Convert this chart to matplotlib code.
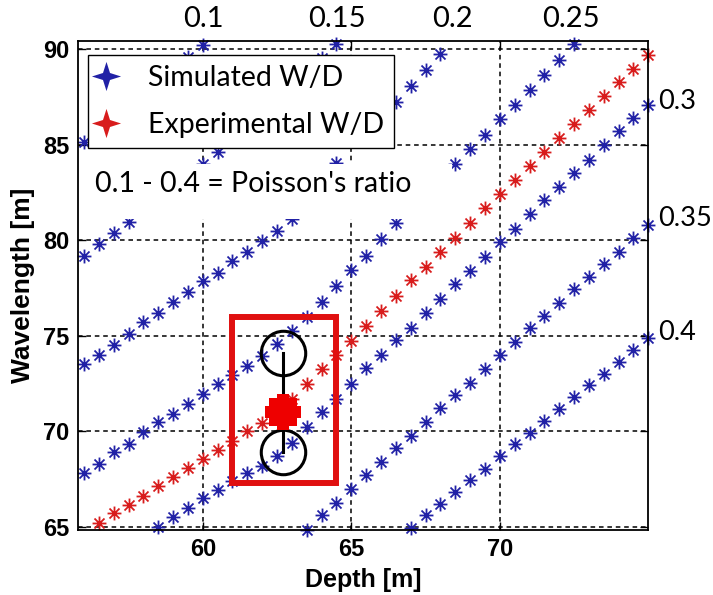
import numpy as np
import matplotlib
matplotlib.use("Agg")
import matplotlib.pyplot as plt
from matplotlib.path import Path
from matplotlib.lines import Line2D
from matplotlib.patches import Rectangle
from matplotlib.legend_handler import HandlerTuple

# ---------------------------------------------------------------------------
# Data: wavelength vs depth, sampled every 0.5 m of depth
# ---------------------------------------------------------------------------
DEPTH_STEP = 0.5

poisson_ratios = ["0.1", "0.15", "0.2", "0.25", "0.3", "0.35", "0.4"]
sim_start_depth = [56.0, 56.0, 56.0, 56.0, 58.5, 63.5, 67.0]

wl_nu010 = [85.15, 85.75, 86.35, 86.95, 87.6, 88.25, 88.9, 89.6, 90.2]
wl_nu015 = [79.2, 79.8, 80.4, 80.95, 81.6, 82.2, 82.8, 83.4, 84.0, 84.6,
            85.25, 85.9, 86.55, 87.2, 87.9, 88.7, 89.55, 90.3]
wl_nu020 = [73.5, 74.0, 74.5, 75.1, 75.7, 76.2, 76.75, 77.3, 77.85, 78.3,
            78.9, 79.4, 79.95, 80.5, 81.1, 82.0, 83.0, 84.05, 85.2, 85.9,
            86.6, 87.25, 88.1, 88.9, 89.75]
wl_nu025 = [67.8, 68.3, 68.9, 69.35, 69.95, 70.5, 70.9, 71.45, 71.95, 72.45,
            72.95, 73.4, 73.95, 74.55, 75.25, 76.0, 76.75, 77.6, 78.45, 79.2,
            80.05, 80.9, 81.7, 82.5, 83.25, 84.0, 84.8, 85.5, 86.35, 87.1,
            87.85, 88.65, 89.45, 90.3]
wl_nu030 = [65.0, 65.5, 66.0, 66.5, 66.9, 67.4, 67.8, 68.2, 68.7, 69.4,
            70.2, 71.0, 71.7, 72.5, 73.3, 74.0, 74.8, 75.4, 76.2, 76.9,
            77.7, 78.4, 79.1, 79.9, 80.6, 81.4, 82.1, 82.8, 83.5, 84.2,
            85.0, 85.7, 86.4, 87.1]
wl_nu035 = [64.85, 65.6, 66.25, 67.0, 67.7, 68.4, 69.1, 69.75, 70.5, 71.2,
            71.9, 72.55, 73.25, 74.0, 74.65, 75.4, 76.05, 76.7, 77.45, 78.1,
            78.75, 79.4, 80.1, 80.8]
wl_nu040 = [64.93, 65.6, 66.2, 66.8, 67.45, 68.05, 68.7, 69.35, 69.9, 70.55,
            71.15, 71.8, 72.4, 73.0, 73.65, 74.25, 74.9]
sim_wavelengths = [wl_nu010, wl_nu015, wl_nu020, wl_nu025,
                   wl_nu030, wl_nu035, wl_nu040]

exp_start_depth = 56.5
wl_exp = [65.2, 65.7, 66.15, 66.6, 67.15, 67.6, 68.1, 68.55, 69.0, 69.5,
          70.0, 70.45, 71.05, 71.7, 72.45, 73.25, 74.0, 74.75, 75.5, 76.3,
          77.1, 77.9, 78.6, 79.4, 80.1, 80.9, 81.7, 82.4, 83.15, 83.9,
          84.6, 85.35, 86.1, 86.8, 87.55, 88.3, 88.95, 89.7]

# Measured W/D point with its wavelength range
meas_depth = 62.7
meas_wl = 71.0
meas_wl_upper = 74.1
meas_wl_lower = 68.9

# Highlight box around the measurement (depth range, wavelength range)
box_depth = (61.0, 64.5)
box_wl = (67.3, 76.0)

x_ticks = [60, 65, 70]
y_ticks = [65, 70, 75, 80, 85, 90]

BLUE = "#2121a6"
RED = "#d81c1c"

# MATLAB-like asterisk: "+" with a slightly shorter "x"
d = 0.72
ast_verts = [(-1, 0), (1, 0), (0, -1), (0, 1),
             (-d, -d), (d, d), (-d, d), (d, -d)]
ast_codes = [Path.MOVETO, Path.LINETO] * 4
ASTERISK = Path(ast_verts, ast_codes)

# four-point star used for the legend keys
s = 0.24
star_verts = [(0, 1), (s, s), (1, 0), (s, -s), (0, -1), (-s, -s), (-1, 0),
              (-s, s), (0, 1)]
STAR = Path(star_verts, [Path.MOVETO] + [Path.LINETO] * 7 + [Path.CLOSEPOLY])

W, H, DPI = 713, 595, 100
fig = plt.figure(figsize=(W / DPI, H / DPI), dpi=DPI)
ax = fig.add_axes([0.109, 0.1092, 0.8003, 0.8224])

for start, wl in zip(sim_start_depth, sim_wavelengths):
    depth = start + DEPTH_STEP * np.arange(len(wl))
    ax.plot(depth, wl, linestyle="none", marker=ASTERISK, markersize=10,
            markeredgewidth=1.3, color=BLUE, clip_on=False, zorder=2)

exp_depth = exp_start_depth + DEPTH_STEP * np.arange(len(wl_exp))
ax.plot(exp_depth, wl_exp, linestyle="none", marker=ASTERISK, markersize=10,
        markeredgewidth=1.3, color=RED, clip_on=False, zorder=2)

# white panel behind the annotation text
ax.add_patch(Rectangle((56.3, 81.1), 68.4 - 56.3, 84.0 - 81.1,
                       facecolor="white", edgecolor="none", zorder=3))
ax.text(0.031, 0.707, "0.1 - 0.4 = Poisson's ratio", transform=ax.transAxes,
        fontsize=20.5, family="Lato", ha="left", va="center", zorder=4)

# highlight box, range circles and the measured point
ax.add_patch(Rectangle((box_depth[0], box_wl[0]), box_depth[1] - box_depth[0],
                       box_wl[1] - box_wl[0], facecolor="none",
                       edgecolor="#e01010", linewidth=4.3, zorder=4,
                       clip_on=False))
ax.plot([meas_depth, meas_depth], [meas_wl_lower, meas_wl_upper], color="black",
        linewidth=2.2, zorder=4)
ax.plot([meas_depth, meas_depth], [meas_wl_lower, meas_wl_upper],
        linestyle="none", marker="o", markersize=32, markerfacecolor="none",
        markeredgecolor="black", markeredgewidth=2.2, zorder=4)
ax.plot([meas_depth], [meas_wl], linestyle="none", marker="P", markersize=26,
        color="#ee0000", markeredgewidth=0, zorder=5)
ax.plot([meas_depth], [meas_wl], linestyle="none", marker="s", markersize=20,
        color="#ee0000", markeredgewidth=0, zorder=5)

ax.set_xlim(55.79, 75.0)
ax.set_ylim(64.83, 90.45)
ax.set_xticks(x_ticks)
ax.set_yticks(y_ticks)
ax.grid(True, color="black", linestyle=(0, (3, 2.5)), linewidth=1.1)
ax.set_axisbelow(True)
ax.tick_params(direction="in", top=True, right=True, length=6, width=1,
               labelsize=17, pad=6)
for lab in ax.get_xticklabels() + ax.get_yticklabels():
    lab.set_fontweight("bold")
    lab.set_family("Liberation Sans")
for sp in ax.spines.values():
    sp.set_linewidth(1.3)

ax.set_xlabel("Depth [m]", fontsize=18, fontweight="bold",
              family="Liberation Sans", labelpad=5)
ax.set_ylabel("Wavelength [m]", fontsize=19, fontweight="bold",
              family="Liberation Sans", labelpad=6)

# legend with star keys
def key(color):
    star = Line2D([], [], linestyle="none", marker=STAR, markersize=21,
                  color=color, markeredgewidth=0)
    dot = Line2D([], [], linestyle="none", marker="o", markersize=2.5,
                 color="white", markeredgewidth=0)
    return (star, dot)

leg = ax.legend([key(BLUE), key(RED)], ["Simulated W/D", "Experimental W/D"],
                handler_map={tuple: HandlerTuple(ndivide=None)},
                loc="upper left", bbox_to_anchor=(0.018, 0.971),
                borderaxespad=0, fancybox=False, framealpha=1,
                edgecolor="black", prop={"family": "Lato", "size": 20.5},
                handlelength=1.45, handletextpad=0.3, labelspacing=0.72,
                borderpad=0.36)
leg.get_frame().set_linewidth(1.0)
leg.set_zorder(6)

# Poisson's ratio labels around the frame
top_labels = [("0.1", 203), ("0.15", 337), ("0.2", 452), ("0.25", 571)]
for txt, px in top_labels:
    fig.text(px / W, 1 - 19 / H, txt, fontsize=21, family="Lato",
             ha="center", va="center")
right_labels = [("0.3", 101), ("0.35", 218), ("0.4", 332)]
for txt, py in right_labels:
    fig.text(658 / W, 1 - py / H, txt, fontsize=19.5, family="Lato",
             ha="left", va="center")

fig.savefig("out.png", dpi=DPI)
